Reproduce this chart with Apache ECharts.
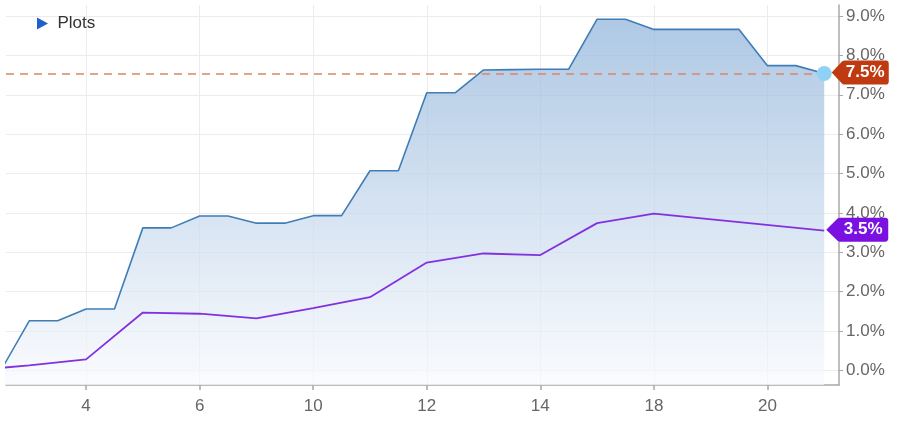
<!DOCTYPE html>
<html>
<head>
<meta charset="utf-8">
<script src="https://cdn.jsdelivr.net/npm/echarts@6/dist/echarts.min.js"></script>
<style>
html,body{margin:0;padding:0;background:#fff;}
#chart{width:902px;height:433px;}
</style>
</head>
<body>
<div id="chart"></div>
<script>
// ---- data ----
const stepIndex = [-3,-2,-1,0,1,2,3,4,5,6,7,8,9,10,11,12,13,14,15,16,17,18,19,20,21,22,23,24,25,26];
const plotValues = [0.0,1.26,1.26,1.56,1.56,3.62,3.62,3.92,3.92,3.74,3.74,3.93,3.93,5.07,5.07,7.05,7.05,7.63,7.64,7.65,7.65,8.92,8.92,8.66,8.66,8.66,8.66,7.74,7.74,7.54];
const purpleIndex = [-4,-2,0,2,4,6,8,10,12,14,16,18,20,26];
const purpleValues = [0.0,0.13,0.28,1.47,1.44,1.32,1.58,1.86,2.74,2.97,2.93,3.74,3.98,3.55];
const tickIndex = [0,4,8,12,16,20,24];
const tickLabels = ['4','6','10','12','14','18','20'];
const yTicks = [0,1,2,3,4,5,6,7,8,9];
const xMin = -2.82, xMax = 26.52;
const yMin = -0.37, yMax = 9.28;

const bluePts = stepIndex.map((x,i)=>[x, plotValues[i]]);
const purplePts = purpleIndex.map((x,i)=>[x, purpleValues[i]]);
const lastBlue = plotValues[plotValues.length-1];
const lastX = stepIndex[stepIndex.length-1];
const lastPurple = purpleValues[purpleValues.length-1];
const lastPX = purpleIndex[purpleIndex.length-1];

const tagPath = 'path://M0,11.5 L11,0.8 Q12,0 14,0 L57,0 Q60,0 60,3 L60,20 Q60,23 57,23 L14,23 Q12,23 11,22.2 Z';
const FONT = '"Liberation Sans", Arial, sans-serif';

const chart = echarts.init(document.getElementById('chart'));
chart.setOption({
  animation: false,
  backgroundColor: '#fff',
  textStyle: {fontFamily: FONT},
  legend: {
    selectedMode: false,
    left: 32, top: 10,
    itemWidth: 12, itemHeight: 12, itemGap: 10,
    textStyle: {fontSize: 17, color: '#333', fontFamily: FONT, padding: [0, 0, 0, 4]},
    data: [{name: 'Plots', icon: 'path://M0,0 L11,6 L0,12 Z', itemStyle: {color: '#1f60cf'}}]
  },
  grid: {left: 6, right: 63, top: 5, bottom: 48, containLabel: false},
  xAxis: {
    type: 'value', min: xMin, max: xMax,
    axisLine: {show: true, onZero: false, lineStyle: {color: '#a8a8a8', width: 1.5}},
    axisTick: {show: true, customValues: tickIndex, length: 5, lineStyle: {color: '#a8a8a8', width: 1.5}},
    axisLabel: {customValues: tickIndex, margin: 13, fontSize: 17, color: '#666', fontFamily: FONT,
      formatter: v => tickLabels[tickIndex.indexOf(Math.round(v))] ?? ''},
    splitLine: {show: true, lineStyle: {color: '#ececec', width: 1}}
  },
  yAxis: {
    type: 'value', position: 'right', min: yMin, max: yMax,
    axisLine: {show: true, onZero: false, lineStyle: {color: '#a8a8a8', width: 1.5}},
    axisTick: {show: true, customValues: yTicks, length: 4, inside: false, lineStyle: {color: '#a8a8a8'}},
    axisLabel: {customValues: yTicks, margin: 7, fontSize: 17, color: '#666', fontFamily: FONT,
      formatter: v => v.toFixed(1) + '%'},
    splitLine: {show: true, lineStyle: {color: '#ececec', width: 1}}
  },
  series: [
    {name: 'Plots', type: 'line', data: []},
    {
      name: 'blue', type: 'line', data: bluePts, showSymbol: false, symbol: 'none',
      lineStyle: {color: '#3f7db6', width: 1.6},
      itemStyle: {color: '#3f7db6'},
      areaStyle: {origin: 'start', color: new echarts.graphic.LinearGradient(0,0,0,1,[
        {offset: 0, color: '#8cb1d9'}, {offset: 1, color: '#f8fafd'}])},
      z: 2,
      markLine: {
        silent: true, symbol: 'none', animation: false,
        label: {show: false},
        lineStyle: {color: '#dc8766', type: [8, 6], width: 1.6},
        data: [[{coord: [xMin, lastBlue]}, {coord: [lastX, lastBlue]}]]
      },
      markPoint: {
        silent: true, animation: false,
        data: [
          {coord: [lastX, lastBlue], symbol: 'circle', symbolSize: 15,
            itemStyle: {color: '#8fd2f6'}, label: {show: false}},
          {coord: [lastX, lastBlue], symbol: tagPath, symbolSize: [57, 24], symbolOffset: [36, -1],
            itemStyle: {color: '#bf3a10'},
            label: {show: true, position: 'inside', offset: [5, 0], formatter: lastBlue.toFixed(1) + '%',
              color: '#fff', fontWeight: 'bold', fontSize: 17, fontFamily: FONT}}
        ]
      }
    },
    {
      name: 'purple', type: 'line', data: purplePts, showSymbol: false, symbol: 'none',
      lineStyle: {color: '#8330e0', width: 1.8},
      itemStyle: {color: '#8330e0'},
      z: 3,
      markPoint: {
        silent: true, animation: false,
        data: [
          {coord: [lastPX, lastPurple], symbol: tagPath, symbolSize: [62, 24], symbolOffset: [33, -1],
            itemStyle: {color: '#7a10e2'},
            label: {show: true, position: 'inside', offset: [6, 0], formatter: lastPurple.toFixed(1) + '%',
              color: '#fff', fontWeight: 'bold', fontSize: 17, fontFamily: FONT}}
        ]
      }
    }
  ]
});
</script>
</body>
</html>
